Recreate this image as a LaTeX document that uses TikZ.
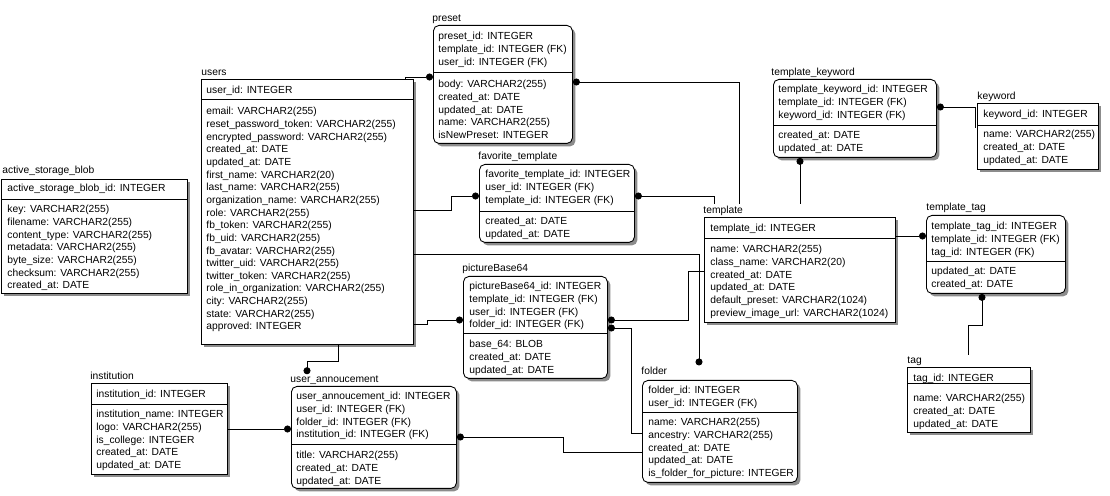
\documentclass[tikz,border=0pt]{standalone}
\usepackage{fontspec}
\setmainfont{Liberation Sans}
\usetikzlibrary{arrows.meta,shadows,calc}
\newcommand\pxu{0.02cm}
\tikzset{
  entity/.style={draw, fill=white, anchor=north west, inner sep=0pt,
    drop shadow={shadow xshift=0.06cm, shadow yshift=-0.06cm, fill=black!45, opacity=1}},
  weak/.style={entity, rounded corners=0.11cm},
  title/.style={anchor=base west, inner sep=0pt, outer ysep=1.2pt},
  rows/.style={anchor=north west, inner sep=0pt, align=left},
  fk/.tip={Circle[length=0.14cm]},
}
\begin{document}
\begin{tikzpicture}[x=0.02cm, y=-0.02cm, line width=0.5pt,
    font=\fontsize{5.85}{7.2}\selectfont]
  \useasboundingbox (0,0) rectangle (1110,496);

  % active_storage_blob
  \node[title] (blobT) at (2,174) {active\_storage\_blob};
  \node[entity, minimum width=186*\pxu, minimum height=114*\pxu] (blob) at (1,179) {};
  \draw (blob.west |- 0,199) -- (blob.east |- 0,199);
  \node[rows] (blobK) at (7,184) {active\_storage\_blob\_id: INTEGER};
  \node[rows] (blobA) at (7,205) {key: VARCHAR2(255)\\filename: VARCHAR2(255)\\
    content\_type: VARCHAR2(255)\\metadata: VARCHAR2(255)\\byte\_size: VARCHAR2(255)\\
    checksum: VARCHAR2(255)\\created\_at: DATE};

  % users
  \node[title] (usersT) at (201,76) {users};
  \node[entity, minimum width=212*\pxu, minimum height=265*\pxu] (users) at (201,79) {};
  \draw (users.west |- 0,99) -- (users.east |- 0,99);
  \node[rows] (usersK) at (206,86) {user\_id: INTEGER};
  \node[rows] (usersA) at (206,107) {email: VARCHAR2(255)\\
    reset\_password\_token: VARCHAR2(255)\\encrypted\_password: VARCHAR2(255)\\
    created\_at: DATE\\updated\_at: DATE\\first\_name: VARCHAR2(20)\\
    last\_name: VARCHAR2(255)\\organization\_name: VARCHAR2(255)\\role: VARCHAR2(255)\\
    fb\_token: VARCHAR2(255)\\fb\_uid: VARCHAR2(255)\\fb\_avatar: VARCHAR2(255)\\
    twitter\_uid: VARCHAR2(255)\\twitter\_token: VARCHAR2(255)\\
    role\_in\_organization: VARCHAR2(255)\\city: VARCHAR2(255)\\state: VARCHAR2(255)\\
    approved: INTEGER};

  % preset
  \node[title] (presetT) at (432,22) {preset};
  \node[weak, minimum width=139*\pxu, minimum height=118*\pxu] (preset) at (433,25) {};
  \draw (preset.west |- 0,72) -- (preset.east |- 0,72);
  \node[rows] (presetK) at (438,32) {preset\_id: INTEGER\\template\_id: INTEGER (FK)\\
    user\_id: INTEGER (FK)};
  \node[rows] (presetA) at (438,80) {body: VARCHAR2(255)\\created\_at: DATE\\
    updated\_at: DATE\\name: VARCHAR2(255)\\isNewPreset: INTEGER};

  % favorite_template
  \node[title] (favT) at (478,160) {favorite\_template};
  \node[weak, minimum width=155*\pxu, minimum height=78*\pxu] (fav) at (479,164) {};
  \draw (fav.west |- 0,211) -- (fav.east |- 0,211);
  \node[rows] (favK) at (485,170) {favorite\_template\_id: INTEGER\\
    user\_id: INTEGER (FK)\\template\_id: INTEGER (FK)};
  \node[rows] (favA) at (485,217) {created\_at: DATE\\updated\_at: DATE};

  % pictureBase64
  \node[title] (pictureT) at (462,272) {pictureBase64};
  \node[weak, minimum width=144*\pxu, minimum height=102*\pxu] (picture) at (463,276) {};
  \draw (picture.west |- 0,333) -- (picture.east |- 0,333);
  \node[rows] (pictureK) at (469,282) {pictureBase64\_id: INTEGER\\
    template\_id: INTEGER (FK)\\user\_id: INTEGER (FK)\\folder\_id: INTEGER (FK)};
  \node[rows] (pictureA) at (469,340) {base\_64: BLOB\\created\_at: DATE\\
    updated\_at: DATE};

  % template
  \node[title] (templateT) at (703,214) {template};
  \node[entity, minimum width=191*\pxu, minimum height=105*\pxu] (template) at (704,217) {};
  \draw (template.west |- 0,238) -- (template.east |- 0,238);
  \node[rows] (templateK) at (710,224) {template\_id: INTEGER};
  \node[rows] (templateA) at (710,245) {name: VARCHAR2(255)\\class\_name: VARCHAR2(20)\\
    created\_at: DATE\\updated\_at: DATE\\default\_preset: VARCHAR2(1024)\\
    preview\_image\_url: VARCHAR2(1024)};

  % template_keyword
  \node[title] (tplkeyT) at (771,76) {template\_keyword};
  \node[weak, minimum width=163*\pxu, minimum height=78*\pxu] (tplkey) at (773,79) {};
  \draw (tplkey.west |- 0,125) -- (tplkey.east |- 0,125);
  \node[rows] (tplkeyK) at (778,85) {template\_keyword\_id: INTEGER\\
    template\_id: INTEGER (FK)\\keyword\_id: INTEGER (FK)};
  \node[rows] (tplkeyA) at (778,131) {created\_at: DATE\\updated\_at: DATE};

  % keyword
  \node[title] (keywordT) at (977,100) {keyword};
  \node[entity, minimum width=121*\pxu, minimum height=66*\pxu] (keyword) at (977,103) {};
  \draw (keyword.west |- 0,125) -- (keyword.east |- 0,125);
  \node[rows] (keywordK) at (983,110) {keyword\_id: INTEGER};
  \node[rows] (keywordA) at (983,130) {name: VARCHAR2(255)\\created\_at: DATE\\
    updated\_at: DATE};

  % template_tag
  \node[title] (tpltagT) at (926,211) {template\_tag};
  \node[weak, minimum width=139*\pxu, minimum height=78*\pxu] (tpltag) at (926,215) {};
  \draw (tpltag.west |- 0,261) -- (tpltag.east |- 0,261);
  \node[rows] (tpltagK) at (931,222) {template\_tag\_id: INTEGER\\
    template\_id: INTEGER (FK)\\tag\_id: INTEGER (FK)};
  \node[rows] (tpltagA) at (931,267) {updated\_at: DATE\\created\_at: DATE};

  % tag
  \node[title] (tagT) at (907,364) {tag};
  \node[entity, minimum width=123*\pxu, minimum height=65*\pxu] (tag) at (907,367) {};
  \draw (tag.west |- 0,383) -- (tag.east |- 0,383);
  \node[rows] (tagK) at (913,374) {tag\_id: INTEGER};
  \node[rows] (tagA) at (913,394) {name: VARCHAR2(255)\\created\_at: DATE\\
    updated\_at: DATE};

  % institution
  \node[title] (instT) at (90,380) {institution};
  \node[entity, minimum width=136*\pxu, minimum height=91*\pxu] (inst) at (91,383) {};
  \draw (inst.west |- 0,404) -- (inst.east |- 0,404);
  \node[rows] (instK) at (96,390) {institution\_id: INTEGER};
  \node[rows] (instA) at (96,410) {institution\_name: INTEGER\\logo: VARCHAR2(255)\\
    is\_college: INTEGER\\created\_at: DATE\\updated\_at: DATE};

  % user_annoucement
  \node[title] (annT) at (290,383) {user\_annoucement};
  \node[weak, minimum width=165*\pxu, minimum height=102*\pxu] (ann) at (291,386) {};
  \draw (ann.west |- 0,444) -- (ann.east |- 0,444);
  \node[rows] (annK) at (296,392) {user\_annoucement\_id: INTEGER\\
    user\_id: INTEGER (FK)\\folder\_id: INTEGER (FK)\\institution\_id: INTEGER (FK)};
  \node[rows] (annA) at (296,451) {title: VARCHAR2(255)\\created\_at: DATE\\
    updated\_at: DATE};

  % folder
  \node[title] (folderT) at (641,375) {folder};
  \node[weak, minimum width=155*\pxu, minimum height=102*\pxu] (folder) at (642,380) {};
  \draw (folder.west |- 0,412) -- (folder.east |- 0,412);
  \node[rows] (folderK) at (648,386) {folder\_id: INTEGER\\user\_id: INTEGER (FK)};
  \node[rows] (folderA) at (648,418) {name: VARCHAR2(255)\\ancestry: VARCHAR2(255)\\
    created\_at: DATE\\updated\_at: DATE\\is\_folder\_for\_picture: INTEGER};

  % relations
  \draw[-fk] (users.north -| 405,0) |- (preset.west |- 0,77);
  \draw[fk-] (preset.east |- 0,82) -| (templateT.north -| 739,0);
  \draw[fk-] (fav.east |- 0,196) -| (templateT.north -| 714,0);
  \draw[fk-] (tplkey.south -| 800,0) -- (templateT.north -| 800,0);
  \draw[-fk] (users.east |- 0,210) -- (451,210) |- (fav.west |- 0,196);
  \draw[-fk] (users.east |- 0,254) -| (folderT.north -| 699,0);
  \draw[-fk] (users.east |- 0,324) -- (427,324) |- (picture.west |- 0,320);
  \draw[fk-] (picture.east |- 0,320) -| (688,271) -- (template.west |- 0,271);
  \draw[fk-] (picture.east |- 0,328) -| (631,433) -- (folder.west |- 0,433);
  \draw[-fk] (users.south -| 338,0) |- (307,361) -- (annT.north -| 307,0);
  \draw[-fk] (inst.east |- 0,429) -- (ann.west |- 0,429);
  \draw[fk-] (ann.east |- 0,437) -| (563,452) -- (folder.west |- 0,452);
  \draw[-fk] (template.east |- 0,236) -- (tpltag.west |- 0,236);
  \draw[fk-] (tpltag.south -| 982,0) |- (968,325) -- (tagT.north -| 968,0);
  \draw[fk-] (tplkey.east |- 0,107) -| ($(keyword.west |- 0,128)+(-2,0)$);
\end{tikzpicture}
\end{document}
